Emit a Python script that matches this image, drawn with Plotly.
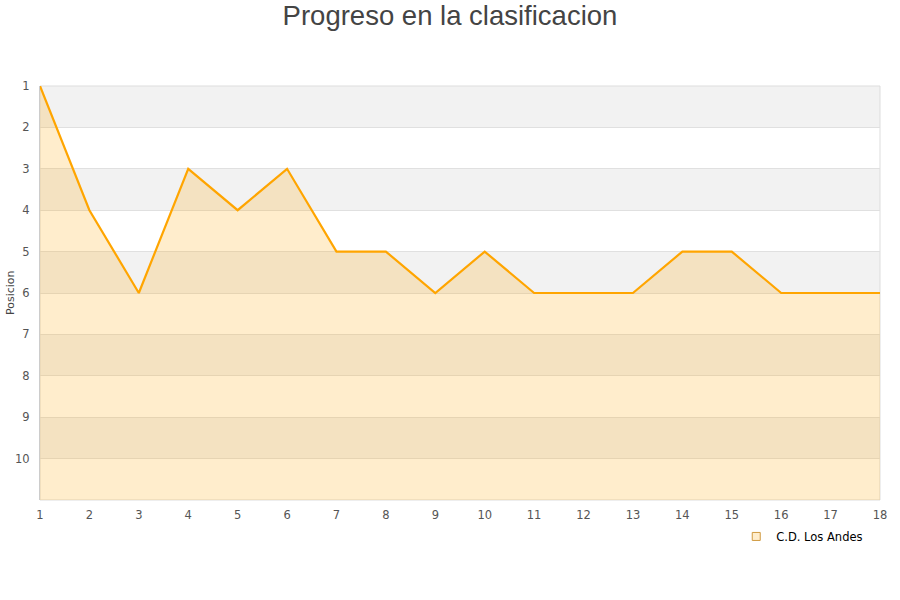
import plotly.graph_objects as go

jornadas = list(range(1, 19))
posiciones = [1, 4, 6, 3, 4, 3, 5, 5, 6, 5, 6, 6, 6, 5, 5, 6, 6, 6]
equipo = "C.D. Los Andes"
y_ticks = list(range(1, 11))
y_bottom = 11

fig = go.Figure()
fig.add_trace(go.Scatter(x=jornadas, y=[y_bottom] * len(jornadas), mode="lines",
                         line=dict(width=0), showlegend=False, hoverinfo="skip"))
fig.add_trace(go.Scatter(x=jornadas, y=posiciones, mode="lines", fill="tonexty",
                         fillcolor="rgba(255,165,0,0.2)",
                         line=dict(color="#ffa500", width=2.2), showlegend=False, name=equipo))
fig.add_trace(go.Scatter(x=[None], y=[None], mode="markers", name=equipo,
                         marker=dict(symbol="square", size=8, color="#ffedcc",
                                     line=dict(color="#d09a40", width=1))))

shapes = []
for i in range(1, 11, 2):
    shapes.append(dict(type="rect", xref="paper", x0=0, x1=1, yref="y", y0=i, y1=i + 1,
                       fillcolor="#f2f2f2", line=dict(width=0), layer="below"))
shapes.append(dict(type="rect", xref="paper", yref="paper", x0=0, x1=1, y0=0, y1=1,
                   line=dict(color="#dddddd", width=1), fillcolor="rgba(0,0,0,0)", layer="below"))

fig.update_layout(
    width=900, height=600,
    title=dict(text="Progreso en la clasificacion", x=0.5, xanchor="center",
               yref="container", y=0.974, yanchor="middle",
               font=dict(family="Liberation Sans, Arial", size=27.5, color="#444444")),
    margin=dict(l=40, r=20, t=86, b=100, autoexpand=False),
    plot_bgcolor="white", paper_bgcolor="white",
    font=dict(family="DejaVu Sans, Arial", size=11, color="#444444"),
    shapes=shapes,
    annotations=[dict(text="Posicion", xref="paper", yref="paper", x=-0.0357, y=0.5,
                      xanchor="center", yanchor="middle", textangle=-90, showarrow=False,
                      font=dict(size=11, color="#444444"))],
    showlegend=True,
    legend=dict(x=0.986, xanchor="right", y=-0.053, yanchor="top", orientation="h",
                itemwidth=30,
                font=dict(size=11.5, color="#000000"), bgcolor="rgba(0,0,0,0)"),
    xaxis=dict(range=[1, 18], tickvals=jornadas, showgrid=False, zeroline=False,
               showline=False, ticks="", automargin=False, ticklabelstandoff=6,
               tickfont=dict(size=11.5, color="#555555")),
    yaxis=dict(range=[y_bottom, 1], tickvals=y_ticks, showgrid=True, gridcolor="#e0e0e0",
               zeroline=False, showline=True, linecolor="#cccccc", ticks="", automargin=False,
               ticklabelstandoff=7,
               tickfont=dict(size=11.5, color="#555555")),
)

fig.write_html("out.html", config={"displayModeBar": False},
               post_script="document.body.style.margin='0';")
